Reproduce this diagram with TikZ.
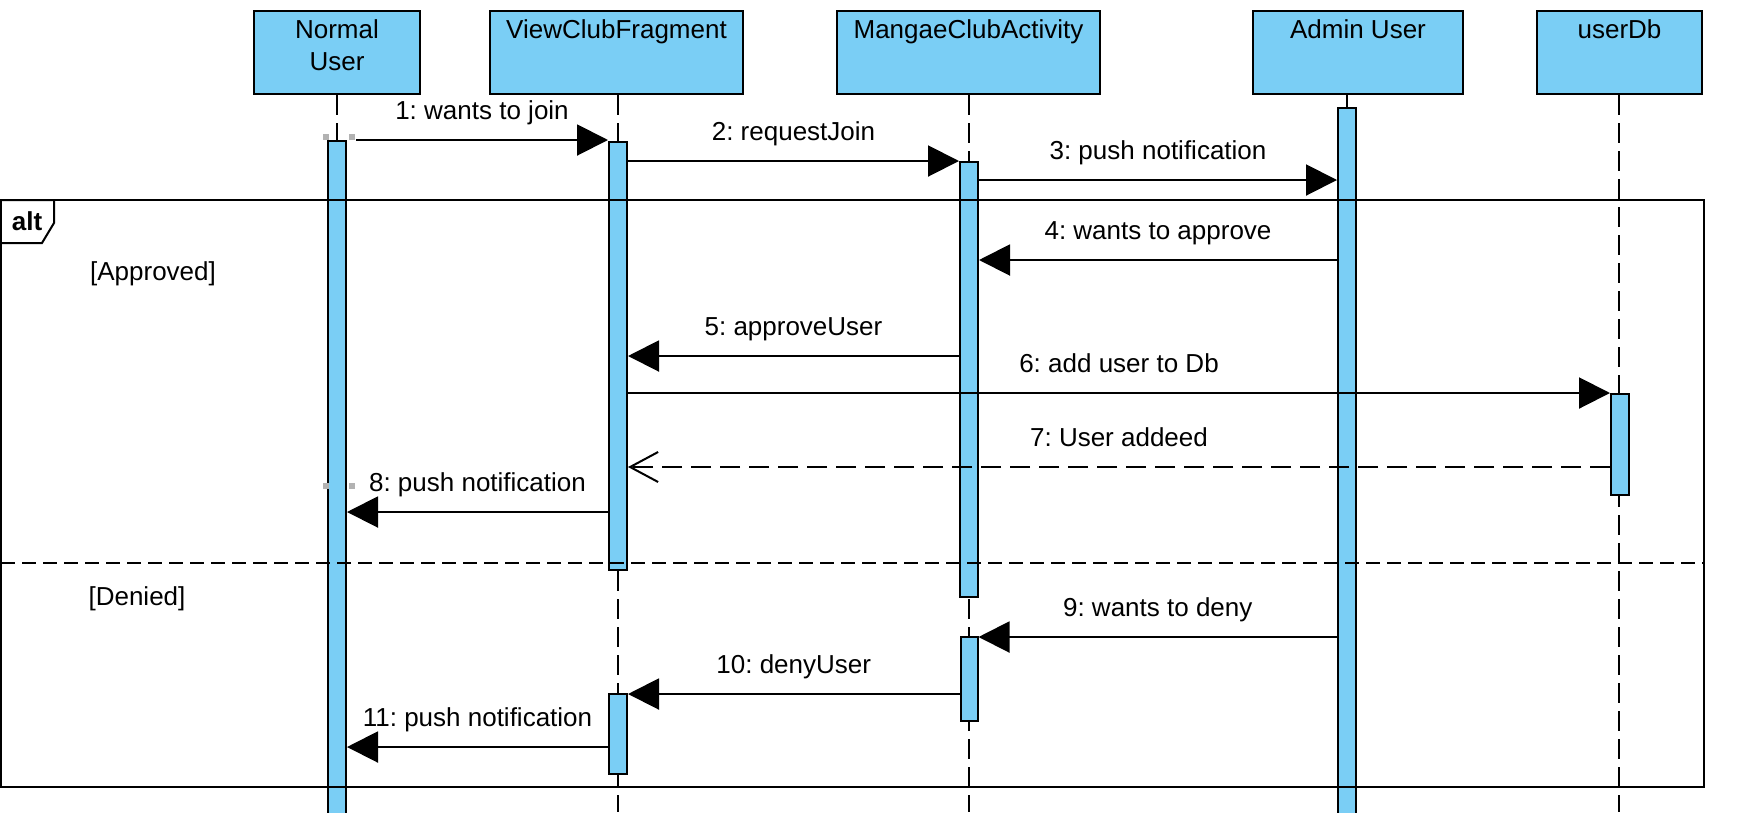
\documentclass[tikz,border=0pt]{standalone}
\usepackage{fontspec}
\setmainfont{Liberation Sans}
\usetikzlibrary{arrows.meta,calc}
\definecolor{lifefill}{RGB}{122,206,245}
\frenchspacing
\begin{document}
\begin{tikzpicture}[x=1pt,y=-1pt,line width=2pt,
  every node/.style={inner sep=0pt},
  headbox/.style={draw=black, fill=lifefill, minimum height=83pt},
  headtext/.style={font=\fontsize{26}{32}\selectfont, align=center, anchor=north, inner ysep=9pt},
  lifeline/.style={draw=black, dash pattern=on 20pt off 8pt},
  actbar/.style={draw=black, fill=lifefill, minimum width=18pt, anchor=north},
  msg/.style={-{Triangle[length=31pt,width=31pt]}},
  reply/.style={dash pattern=on 20pt off 9pt, -{Straight Barb[length=28pt,width=30pt]}},
  msglabel/.style={font=\fontsize{26}{32}\selectfont, text height=19pt, text depth=0pt, yshift=30pt},
  guard/.style={font=\fontsize{26}{32}\selectfont, text height=19pt, text depth=0pt},
  handle/.style={fill=black!30, minimum size=6pt}
]
\useasboundingbox (0,0) rectangle (1742,812);

% head boxes
\node[headbox, minimum width=166pt] (nu) at (337,52.5) {};
\node[headbox, minimum width=253pt] (vcf) at (616.5,52.5) {};
\node[headbox, minimum width=263pt] (mca) at (968.5,52.5) {};
\node[headbox, minimum width=210pt] (adm) at (1358,52.5) {};
\node[headbox, minimum width=165pt] (udb) at (1619.5,52.5) {};

% lifeline ends
\coordinate (nuE) at (337,812);
\coordinate (vcfE) at (618,812);
\coordinate (mcaE) at (969,812);
\coordinate (admE) at (1347,812);
\coordinate (udbE) at (1619,812);
\draw[lifeline] (nu.south -| nuE) -- (nuE);
\draw[lifeline] (vcf.south -| vcfE) -- (vcfE);
\draw[lifeline] (mca.south -| mcaE) -- (mcaE);
\draw[black] (adm.south -| admE) -- (admE);
\draw[lifeline] (udb.south -| udbE) -- (udbE);

% box texts
\node[headtext] at (nu.north) {Normal\\User};
\node[headtext] at (vcf.north) {ViewClubFragment};
\node[headtext] at (mca.north) {MangaeClubActivity};
\node[headtext] at (adm.north) {Admin User};
\node[headtext] at (udb.north) {userDb};

% activation bars
\node[actbar, minimum height=676pt] (nuact) at (337,140) {};
\node[actbar, minimum height=428pt] (vcf1) at (618,141) {};
\node[actbar, minimum height=435pt] (mca1) at (969,161) {};
\node[actbar, minimum height=709pt] (admact) at (1347,107) {};
\node[actbar, minimum height=101pt] (udbact) at (1620,393) {};
\node[actbar, minimum width=17pt, minimum height=84pt] (mca2) at (969,636) {};
\node[actbar, minimum height=80pt] (vcf2) at (618,693) {};

% combined fragment
\draw (1,200) rectangle (1704,787);
\draw (1,200) -- (54,200) -- (54,223) -- (42,243) -- (1,243);
\node[guard, font=\fontsize{26}{32}\selectfont\bfseries] (alt) at (27,221) {alt};
\draw[dash pattern=on 14pt off 7pt] (1,563) -- (1704,563);
\node[guard] (g1) at (153,271) {[Approved]};
\node[guard] (g2) at (137,596) {[Denied]};

% selection handles
\node[handle] (h1) at (326,137) {};
\node[handle] (h2) at (352,137) {};
\node[handle] (h3) at (326,486) {};
\node[handle] (h4) at (352,486) {};

% message levels
\coordinate (y1) at (0,140);
\coordinate (y2) at (0,161);
\coordinate (y3) at (0,180);
\coordinate (y4) at (0,260);
\coordinate (y5) at (0,356);
\coordinate (y6) at (0,393);
\coordinate (y7) at (0,467);
\coordinate (y8) at (0,512);
\coordinate (y9) at (0,637);
\coordinate (y10) at (0,694);
\coordinate (y11) at (0,747);

\draw[msg] ($(nuact.east |- y1)+(9,0)$) -- (vcf1.west |- y1) node[msglabel, midway] {1: wants to join};
\draw[msg] (vcf1.east |- y2) -- (mca1.west |- y2) node[msglabel, midway] {2: requestJoin};
\draw[msg] (mca1.east |- y3) -- (admact.west |- y3) node[msglabel, midway] {3: push notification};
\draw[msg] (admact.west |- y4) -- (mca1.east |- y4) node[msglabel, midway] {4: wants to approve};
\draw[msg] (mca1.west |- y5) -- (vcf1.east |- y5) node[msglabel, midway] {5: approveUser};
\draw[msg] (vcf1.east |- y6) -- (udbact.west |- y6) node[msglabel, midway] {6: add user to Db};
\draw[reply] (udbact.west |- y7) -- (vcf1.east |- y7) node[msglabel, midway] {7: User addeed};
\draw[msg] (vcf1.west |- y8) -- (nuact.east |- y8) node[msglabel, midway] {8: push notification};
\draw[msg] (admact.west |- y9) -- (mca2.east |- y9) node[msglabel, midway] {9: wants to deny};
\draw[msg] (mca2.west |- y10) -- (vcf2.east |- y10) node[msglabel, midway] {10: denyUser};
\draw[msg] (vcf2.west |- y11) -- (nuact.east |- y11) node[msglabel, midway] {11: push notification};
\end{tikzpicture}
\end{document}
